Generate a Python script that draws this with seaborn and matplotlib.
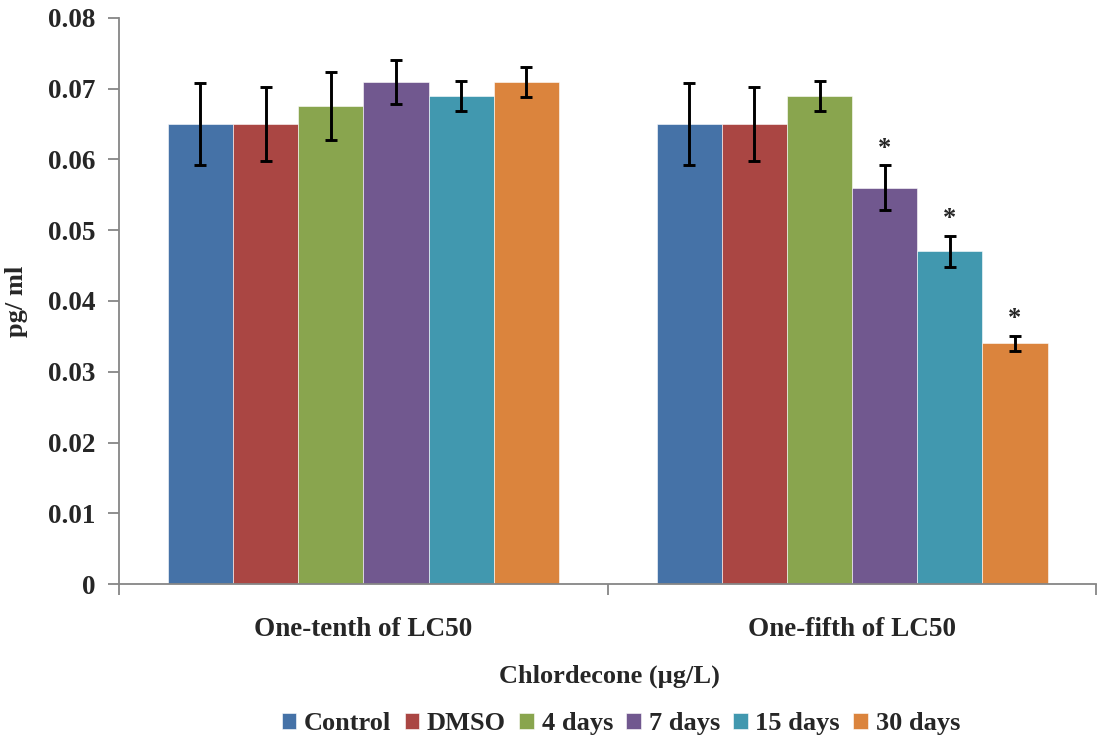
import pandas as pd
import seaborn as sns
import matplotlib.pyplot as plt

# data
groups = ["One-tenth of LC50", "One-fifth of LC50"]
treatments = ["Control", "DMSO", "4 days", "7 days", "15 days", "30 days"]
tenth_vals = [0.065, 0.065, 0.0675, 0.071, 0.069, 0.071]
tenth_err = [0.0058, 0.0052, 0.0048, 0.0031, 0.0021, 0.0021]
fifth_vals = [0.065, 0.065, 0.069, 0.056, 0.047, 0.034]
fifth_err = [0.0058, 0.0052, 0.0021, 0.0032, 0.0022, 0.0011]
fifth_signif = [False, False, False, True, True, True]

colors = ["#4572A7", "#AA4643", "#89A54E", "#71588F", "#4198AF", "#DB843D"]

df = pd.DataFrame({
    "Group": [groups[0]] * 6 + [groups[1]] * 6,
    "Treatment": treatments * 2,
    "Value": tenth_vals + fifth_vals,
    "Err": tenth_err + fifth_err,
    "Signif": [False] * 6 + fifth_signif,
})

sns.set_style("white")
plt.rcParams['font.family'] = ['Liberation Serif', 'DejaVu Serif']
plt.rcParams['font.weight'] = 'bold'

fig = plt.figure(figsize=(10.97, 7.40), dpi=100)
ax = fig.add_axes([0.1085, 0.2108, 0.891, 0.7649])

sns.barplot(data=df, x="Group", y="Value", hue="Treatment", order=groups,
            hue_order=treatments, palette=colors, width=0.8, saturation=1,
            edgecolor="white", linewidth=0.4, errorbar=None, ax=ax)

# error bars and significance marks, placed on the bars seaborn drew
for cont, trt in zip(ax.containers, treatments):
    for bar, grp in zip(cont, groups):
        row = df[(df.Group == grp) & (df.Treatment == trt)].iloc[0]
        xc = bar.get_x() + bar.get_width() / 2
        ax.errorbar(xc, row.Value, yerr=row.Err, fmt="none", ecolor="black",
                    elinewidth=2.1, capsize=4.5, capthick=2.1)
        if row.Signif:
            ax.annotate("*", (xc, row.Value + row.Err), xytext=(0, 4),
                        textcoords="offset points", ha="center", va="bottom",
                        fontsize=19, fontweight="bold")

ax.set_ylim(0, 0.08)
ax.set_xlim(-0.5, 1.5)
ax.set_yticks([0, 0.01, 0.02, 0.03, 0.04, 0.05, 0.06, 0.07, 0.08])
ax.set_yticklabels(["0", "0.01", "0.02", "0.03", "0.04", "0.05", "0.06", "0.07", "0.08"])
ax.set_xticks([-0.5, 0.5, 1.5], minor=True)

for s in ["top", "right"]:
    ax.spines[s].set_visible(False)
for s in ["left", "bottom"]:
    ax.spines[s].set_color("#868686")
    ax.spines[s].set_linewidth(1.3)

ax.tick_params(axis="y", which="major", left=True, length=8, width=1.3,
               color="#868686", labelsize=19.5, pad=9)
ax.tick_params(axis="x", which="major", bottom=False, length=0,
               labelsize=19.5, pad=24)
ax.tick_params(axis="x", which="minor", bottom=True, length=8, width=1.3,
               color="#868686")
for lab in ax.get_xticklabels() + ax.get_yticklabels():
    lab.set_fontweight("bold")

ax.set_ylabel("pg/ ml", fontsize=19, fontweight="bold")
ax.yaxis.set_label_coords(-0.093, 0.5)
ax.set_xlabel("Chlordecone (µg/L)", fontsize=19, fontweight="bold")
ax.xaxis.set_label_coords(0.5015, -0.143)

ax.legend(loc="center", bbox_to_anchor=(0.566, 0.022), bbox_transform=fig.transFigure,
          ncol=6, frameon=False, handlelength=0.55, handleheight=0.55,
          handletextpad=0.3, columnspacing=0.5,
          prop={"size": 19, "weight": "bold"})

fig.savefig("out.png", dpi=100)
